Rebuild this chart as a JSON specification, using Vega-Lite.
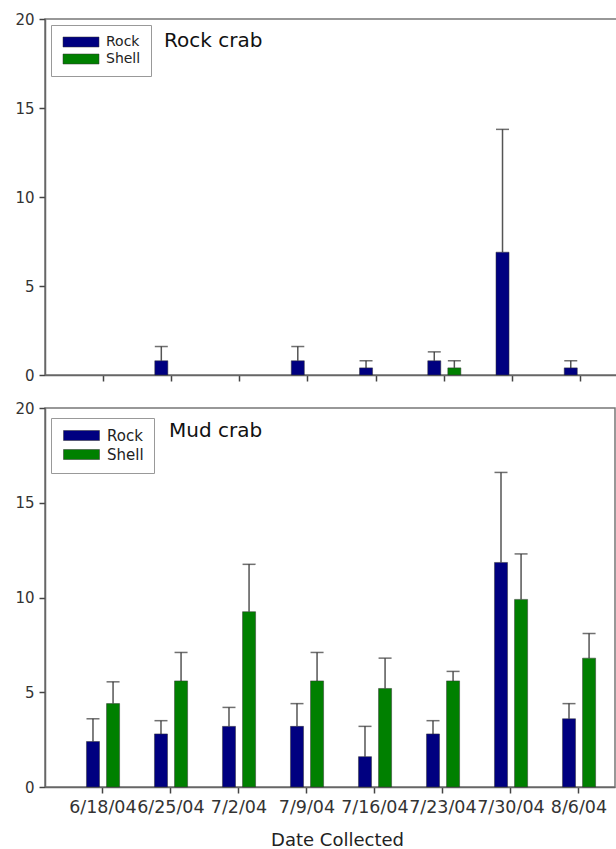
{
  "$schema": "https://vega.github.io/schema/vega-lite/v6.json",
  "autosize": {"type": "pad"},
  "padding": {"left": 0, "top": 11, "right": 0, "bottom": 0},
  "background": "white",
  "config": {
    "view": {"stroke": "#777", "strokeWidth": 1.5},
    "axis": {"domainColor": "#666", "domainWidth": 1.5, "tickColor": "#444", "tickWidth": 1.5, "tickSize": 6, "labelFont": "DejaVu Sans", "labelColor": "#333", "titleFont": "DejaVu Sans", "titleColor": "#222", "titleFontWeight": "normal", "grid": false, "labelPadding": 5},
    "legend": {"orient": "none", "legendX": 6, "strokeColor": "#999", "fillColor": "white", "padding": 10, "rowPadding": 3, "symbolType": "M-3.6,-1L3.6,-1L3.6,1L-3.6,1Z", "symbolSize": 100, "symbolOffset": 13, "labelOffset": 18, "labelFont": "DejaVu Sans", "labelColor": "#222", "symbolStrokeColor": "#333", "symbolStrokeWidth": 0.5, "title": null},
    "title": {"font": "DejaVu Sans", "fontWeight": "normal", "color": "#111", "anchor": "start", "frame": "group", "baseline": "top"}
  },
  "datasets": {
    "crabs": [
      {"crab": "Rock crab", "date": "6/25/04", "type": "Rock", "mean": 0.8, "upper": 1.6},
      {"crab": "Rock crab", "date": "7/9/04", "type": "Rock", "mean": 0.8, "upper": 1.6},
      {"crab": "Rock crab", "date": "7/16/04", "type": "Rock", "mean": 0.4, "upper": 0.8},
      {"crab": "Rock crab", "date": "7/23/04", "type": "Rock", "mean": 0.8, "upper": 1.3},
      {"crab": "Rock crab", "date": "7/23/04", "type": "Shell", "mean": 0.4, "upper": 0.8},
      {"crab": "Rock crab", "date": "7/30/04", "type": "Rock", "mean": 6.9, "upper": 13.8},
      {"crab": "Rock crab", "date": "8/6/04", "type": "Rock", "mean": 0.4, "upper": 0.8},
      {"crab": "Mud crab", "date": "6/18/04", "type": "Rock", "mean": 2.4, "upper": 3.6},
      {"crab": "Mud crab", "date": "6/18/04", "type": "Shell", "mean": 4.4, "upper": 5.55},
      {"crab": "Mud crab", "date": "6/25/04", "type": "Rock", "mean": 2.8, "upper": 3.5},
      {"crab": "Mud crab", "date": "6/25/04", "type": "Shell", "mean": 5.6, "upper": 7.1},
      {"crab": "Mud crab", "date": "7/2/04", "type": "Rock", "mean": 3.2, "upper": 4.2},
      {"crab": "Mud crab", "date": "7/2/04", "type": "Shell", "mean": 9.25, "upper": 11.75},
      {"crab": "Mud crab", "date": "7/9/04", "type": "Rock", "mean": 3.2, "upper": 4.4},
      {"crab": "Mud crab", "date": "7/9/04", "type": "Shell", "mean": 5.6, "upper": 7.1},
      {"crab": "Mud crab", "date": "7/16/04", "type": "Rock", "mean": 1.6, "upper": 3.2},
      {"crab": "Mud crab", "date": "7/16/04", "type": "Shell", "mean": 5.2, "upper": 6.8},
      {"crab": "Mud crab", "date": "7/23/04", "type": "Rock", "mean": 2.8, "upper": 3.5},
      {"crab": "Mud crab", "date": "7/23/04", "type": "Shell", "mean": 5.6, "upper": 6.1},
      {"crab": "Mud crab", "date": "7/30/04", "type": "Rock", "mean": 11.85, "upper": 16.6},
      {"crab": "Mud crab", "date": "7/30/04", "type": "Shell", "mean": 9.9, "upper": 12.3},
      {"crab": "Mud crab", "date": "8/6/04", "type": "Rock", "mean": 3.6, "upper": 4.4},
      {"crab": "Mud crab", "date": "8/6/04", "type": "Shell", "mean": 6.8, "upper": 8.1}
    ]
  },
  "bounds": "flush",
  "spacing": 33,
  "resolve": {"scale": {"color": "independent", "x": "independent", "y": "independent"}, "legend": {"color": "independent"}},
  "vconcat": [
    {
      "width": 572,
      "height": 356,
      "title": {"text": "Rock crab", "fontSize": 20, "offset": -39, "dx": 119},
      "data": {"name": "crabs"},
      "transform": [{"filter": "datum.crab == 'Rock crab'"}],
      "encoding": {
        "x": {"field": "date", "type": "nominal", "sort": ["6/18/04", "6/25/04", "7/2/04", "7/9/04", "7/16/04", "7/23/04", "7/30/04", "8/6/04"], "scale": {"domain": ["6/18/04", "6/25/04", "7/2/04", "7/9/04", "7/16/04", "7/23/04", "7/30/04", "8/6/04"], "paddingInner": 0, "paddingOuter": 0.191, "align": 0.92}, "axis": {"labels": false, "title": null}},
        "xOffset": {"field": "type", "type": "nominal", "scale": {"domain": ["Rock", "Shell"], "paddingInner": 0.35, "paddingOuter": 0.875}}
      },
      "layer": [
        {"mark": {"type": "rule", "color": "#555", "strokeWidth": 1.5}, "encoding": {"y": {"field": "upper", "type": "quantitative", "scale": {"domain": [0, 20], "nice": false}, "axis": {"values": [0, 5, 10, 15, 20], "title": null, "labelFontSize": 15, "minExtent": 44, "maxExtent": 44}}, "y2": {"field": "mean"}}},
        {"mark": {"type": "tick", "color": "#333", "thickness": 1.5, "size": 13}, "encoding": {"y": {"field": "upper", "type": "quantitative"}}},
        {"mark": {"type": "bar", "stroke": "#333", "strokeWidth": 0.5}, "encoding": {"y": {"field": "mean", "type": "quantitative"}, "color": {"field": "type", "type": "nominal", "scale": {"domain": ["Rock", "Shell"], "range": ["#000080", "#008000"]}, "legend": {"legendY": 6, "labelFontSize": 14}}}}
      ]
    },
    {
      "width": 570,
      "height": 379,
      "title": {"text": "Mud crab", "fontSize": 20, "offset": -40, "dx": 124},
      "data": {"name": "crabs"},
      "transform": [{"filter": "datum.crab == 'Mud crab'"}],
      "encoding": {
        "x": {"field": "date", "type": "nominal", "sort": ["6/18/04", "6/25/04", "7/2/04", "7/9/04", "7/16/04", "7/23/04", "7/30/04", "8/6/04"], "scale": {"domain": ["6/18/04", "6/25/04", "7/2/04", "7/9/04", "7/16/04", "7/23/04", "7/30/04", "8/6/04"], "paddingInner": 0, "paddingOuter": 0.191, "align": 0.92}, "axis": {"labelAngle": 0, "labelFontSize": 17.5, "labelOverlap": false, "labelPadding": 5, "title": "Date Collected", "titleFontSize": 18, "titlePadding": 16, "titleX": 292}},
        "xOffset": {"field": "type", "type": "nominal", "scale": {"domain": ["Rock", "Shell"], "paddingInner": 0.35, "paddingOuter": 0.875}}
      },
      "layer": [
        {"mark": {"type": "rule", "color": "#555", "strokeWidth": 1.5}, "encoding": {"y": {"field": "upper", "type": "quantitative", "scale": {"domain": [0, 20], "nice": false}, "axis": {"values": [0, 5, 10, 15, 20], "title": null, "labelFontSize": 15, "minExtent": 44, "maxExtent": 44}}, "y2": {"field": "mean"}}},
        {"mark": {"type": "tick", "color": "#333", "thickness": 1.5, "size": 13}, "encoding": {"y": {"field": "upper", "type": "quantitative"}}},
        {"mark": {"type": "bar", "stroke": "#333", "strokeWidth": 0.5}, "encoding": {"y": {"field": "mean", "type": "quantitative"}, "color": {"field": "type", "type": "nominal", "scale": {"domain": ["Rock", "Shell"], "range": ["#000080", "#008000"]}, "legend": {"legendY": 10, "labelFontSize": 15}}}}
      ]
    }
  ]
}
